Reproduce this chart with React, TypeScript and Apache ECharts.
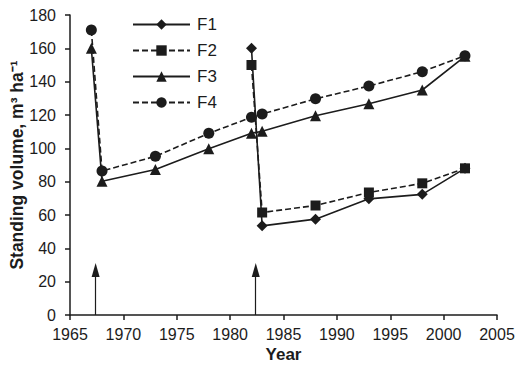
import React, { useEffect, useRef } from "react";
import * as echarts from "echarts";

const f1Years = [1982, 1983, 1988, 1993, 1998, 2002];
const f1Values = [160, 53.5, 57.5, 69.7, 72.4, 88];
const f2Years = [1982, 1983, 1988, 1993, 1998, 2002];
const f2Values = [150, 61.5, 65.7, 73.5, 79, 88];
const f3Years = [1967, 1968, 1973, 1978, 1982, 1983, 1988, 1993, 1998, 2002];
const f3Values = [160, 80.3, 87.3, 99.7, 109, 110.3, 119.5, 126.8, 135, 155.2];
const f4Years = [1967, 1968, 1973, 1978, 1982, 1983, 1988, 1993, 1998, 2002];
const f4Values = [171, 86.4, 95.2, 109, 118.6, 120.6, 129.7, 137.4, 146, 155.6];
const arrowYears = [1967.4, 1982.4];
const arrowTop = 27;

const INK = "#1c1c1c";

function pairs(xs: number[], ys: number[]) {
  return xs.map((x, i) => [x, ys[i]]);
}

export default function App() {
  const ref = useRef<HTMLDivElement>(null);
  useEffect(() => {
    const chart = echarts.init(ref.current!, undefined, { renderer: "svg" });
    const font = "Arial, 'Liberation Sans', sans-serif";
    const mk = (name: string, xs: number[], ys: number[], symbol: string, size: number, dashed: boolean) => ({
      name,
      type: "line",
      data: pairs(xs, ys),
      symbol,
      symbolSize: size,
      showAllSymbol: true,
      itemStyle: { color: INK, borderWidth: 0 },
      lineStyle: { color: INK, width: 1.6, type: dashed ? [6, 3] : "solid" },
      z: 3,
    });
    chart.setOption({
      animation: false,
      backgroundColor: "#fff",
      textStyle: { fontFamily: font },
      grid: { left: 70, right: 21, top: 15, bottom: 50, containLabel: false, outerBoundsMode: "none" },
      legend: {
        left: 127,
        top: 11,
        orient: "vertical",
        itemWidth: 57,
        itemHeight: 13,
        itemGap: 9,
        textStyle: { fontSize: 17, color: INK, fontFamily: font, padding: [0, 0, 0, 2] },
        data: ["F1", "F2", "F3", "F4"],
      },
      xAxis: {
        type: "value",
        min: 1965,
        max: 2005,
        interval: 5,
        name: "Year",
        nameLocation: "middle",
        nameGap: 31,
        nameMoveOverlap: false,
        nameTextStyle: { fontSize: 17, fontWeight: "bold", color: INK, fontFamily: font },
        axisLine: { show: true, lineStyle: { color: INK, width: 1.5 } },
        axisTick: { show: true, length: 5, lineStyle: { color: INK, width: 1.5 } },
        axisLabel: { fontSize: 16, color: INK, margin: 11, fontFamily: font, formatter: (v: number) => String(v) },
        splitLine: { show: false },
      },
      yAxis: {
        type: "value",
        min: 0,
        max: 180,
        interval: 20,
        name: "Standing volume, m³ ha⁻¹",
        nameLocation: "middle",
        nameGap: 44,
        nameMoveOverlap: false,
        nameTextStyle: { fontSize: 17.5, fontWeight: "bold", color: INK, fontFamily: font },
        axisLine: { show: true, lineStyle: { color: INK, width: 1.5 } },
        axisTick: { show: true, length: 5, lineStyle: { color: INK, width: 1.5 } },
        axisLabel: { fontSize: 16, color: INK, margin: 14, fontFamily: font },
        splitLine: { show: false },
      },
      series: [
        mk("F1", f1Years, f1Values, "diamond", 11, false),
        mk("F2", f2Years, f2Values, "rect", 10, true),
        mk("F3", f3Years, f3Values, "triangle", 11, false),
        mk("F4", f4Years, f4Values, "circle", 11, true),
        {
          name: "arrows",
          type: "line",
          data: [],
          markLine: {
            silent: true,
            symbol: ["none", "triangle"],
            symbolSize: [8, 14],
            label: { show: false },
            lineStyle: { color: INK, width: 1.2, type: "solid" },
            data: arrowYears.map((x) => [
              { coord: [x, 0] },
              { coord: [x, arrowTop] },
            ]),
          },
        },
      ],
    });
    return () => chart.dispose();
  }, []);
  return <div ref={ref} style={{ width: 518, height: 365, position: "absolute", left: 0, top: 0 }} />;
}
